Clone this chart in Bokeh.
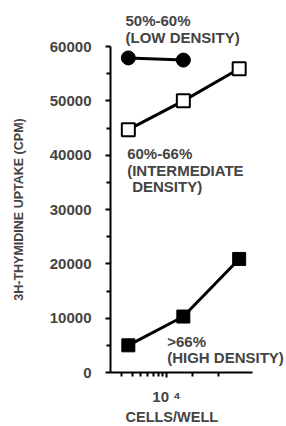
from bokeh.plotting import figure
from bokeh.models import Range1d, FixedTicker, Label, Title
from bokeh.embed import file_html
from bokeh.resources import INLINE

cells = [3600, 15700, 70000]
low_x = [3600, 15700]
low_y = [57900, 57500]
inter_y = [44700, 50000, 55900]
high_y = [5000, 10300, 20900]
y_ticks = [0, 10000, 20000, 30000, 40000, 50000, 60000]
y_minor = [5000, 15000, 25000, 35000, 45000, 55000]
x_ticks = [10000]
x_minor = [3000, 4000, 5000, 6000, 7000, 8000, 9000, 20000, 40000]

FONT = "Liberation Sans"

p = figure(width=286, height=426, x_axis_type="log",
           x_range=Range1d(2233, 248500), y_range=Range1d(0, 60000),
           output_backend="svg", toolbar_location=None,
           min_border_left=110, min_border_right=0,
           min_border_top=46, min_border_bottom=54)
p.grid.visible = False
p.outline_line_color = None

# lines and markers
p.line(low_x, low_y, line_color="black", line_width=3)
p.line(cells, inter_y, line_color="black", line_width=3)
p.line(cells, high_y, line_color="black", line_width=3)
p.scatter(low_x, low_y, marker="circle", size=14, fill_color="black", line_color="black")
p.scatter(cells, inter_y, marker="square", size=13, fill_color="white", line_color="black", line_width=2)
p.scatter(cells, high_y, marker="square", size=13, fill_color="black", line_color="black")

# y axis
ya = p.yaxis[0]
ya.ticker = FixedTicker(ticks=y_ticks, minor_ticks=y_minor)
ya.axis_line_width = 2
ya.major_tick_line_width = 2
ya.minor_tick_line_width = 2
ya.major_tick_out = 5
ya.major_tick_in = 0
ya.minor_tick_out = 4
ya.minor_tick_in = 0
ya.major_label_text_font = FONT
ya.major_label_text_font_style = "bold"
ya.major_label_text_font_size = "15px"
ya.major_label_standoff = 14
ya.axis_label = "3H-THYMIDINE UPTAKE (CPM)"
ya.axis_label_text_font = FONT
ya.axis_label_text_font_style = "bold"
ya.axis_label_text_font_size = "12.5px"
ya.axis_label_standoff = 21

# x axis
xa = p.xaxis[0]
xa.bounds = (2233, 100000)
xa.ticker = FixedTicker(ticks=x_ticks, minor_ticks=x_minor)
xa.major_label_overrides = {10000: "10 \u2074"}
xa.axis_line_width = 2
xa.major_tick_line_width = 2
xa.minor_tick_line_width = 2
xa.major_tick_in = 0
xa.major_tick_out = 5
xa.minor_tick_in = 0
xa.minor_tick_out = 4
xa.major_label_text_font = FONT
xa.major_label_text_font_style = "bold"
xa.major_label_text_font_size = "15px"
xa.major_label_standoff = 10

# x axis title as a left-aligned title below the axis
p.add_layout(Title(text="CELLS/WELL", align="left", offset=15, standoff=-2,
                   text_font=FONT, text_font_style="bold", text_font_size="14.5px"), "below")
# low density label above the frame
p.add_layout(Title(text="50%-60%\n(LOW DENSITY)", align="left", offset=15, standoff=2,
                   text_font=FONT, text_font_style="bold", text_font_size="15px",
                   text_line_height=1.0), "above")

def add_label(x, y, text):
    p.add_layout(Label(x=x, y=y, text=text, text_font=FONT, text_font_style="bold",
                       text_font_size="15px", text_baseline="middle", text_align="left"))

add_label(3490, 40300, "60%-66%")
add_label(3490, 37100, "(INTERMEDIATE")
add_label(3990, 34230, "DENSITY)")
add_label(10190, 5700, ">66%")
add_label(10190, 2760, "(HIGH DENSITY)")

open("out.html", "w").write(file_html(p, INLINE))
